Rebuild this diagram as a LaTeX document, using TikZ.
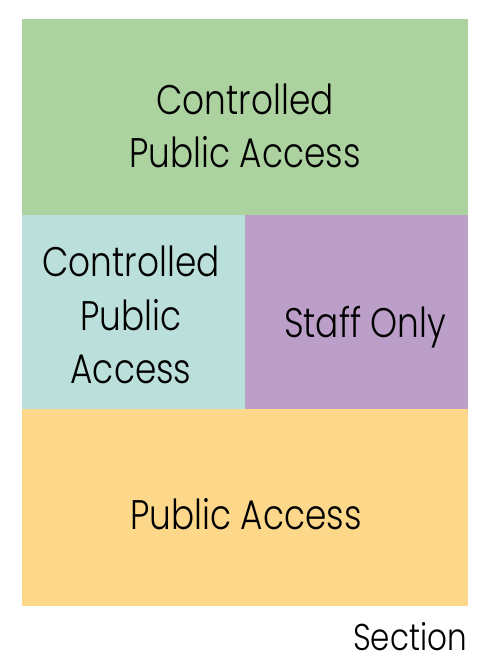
\documentclass[tikz,border=0pt]{standalone}
\usepackage{fontspec}
\setmainfont{Poppins Light}[FakeStretch=0.83]
\definecolor{zonegreen}{HTML}{ACD29F}
\definecolor{zoneteal}{HTML}{BBDFDB}
\definecolor{zonepurple}{HTML}{BC9FC8}
\definecolor{zoneorange}{HTML}{FDD78A}
\tikzset{
  zonelabel/.style={align=center,inner sep=0pt,font=\fontsize{31}{40}\selectfont}
}
\begin{document}
\begin{tikzpicture}[x=0.75pt,y=-0.75pt]
      \useasboundingbox (0,0) rectangle (486,670);
      \coordinate (n1) at (22,19);
      \coordinate (n2) at (468,215);
      \coordinate (n3) at (22,215);
      \coordinate (n4) at (245,409);
      \coordinate (n5) at (245,215);
      \coordinate (n6) at (468,409);
      \coordinate (n7) at (22,409);
      \coordinate (n8) at (468,606);

      \fill[zonegreen] (n1) rectangle (n2);
      \fill[zoneteal] (n3) rectangle (n4);
      \fill[zonepurple] (n5) rectangle (n6);
      \fill[zoneorange] (n7) rectangle (n8);

      \node[zonelabel] (upper) at (245,126) {Controlled\\Public Access};
      \node[zonelabel] (left) at (131,315) {Controlled\\Public\\Access};
      \node[zonelabel] (right) at (365,327) {Staff Only};
      \node[zonelabel] (lower) at (246,514) {Public Access};
      \node[font=\fontsize{28}{30}\selectfont,anchor=base east,inner sep=0pt] (section) at (467,650) {Section};
    \end{tikzpicture}
\end{document}
